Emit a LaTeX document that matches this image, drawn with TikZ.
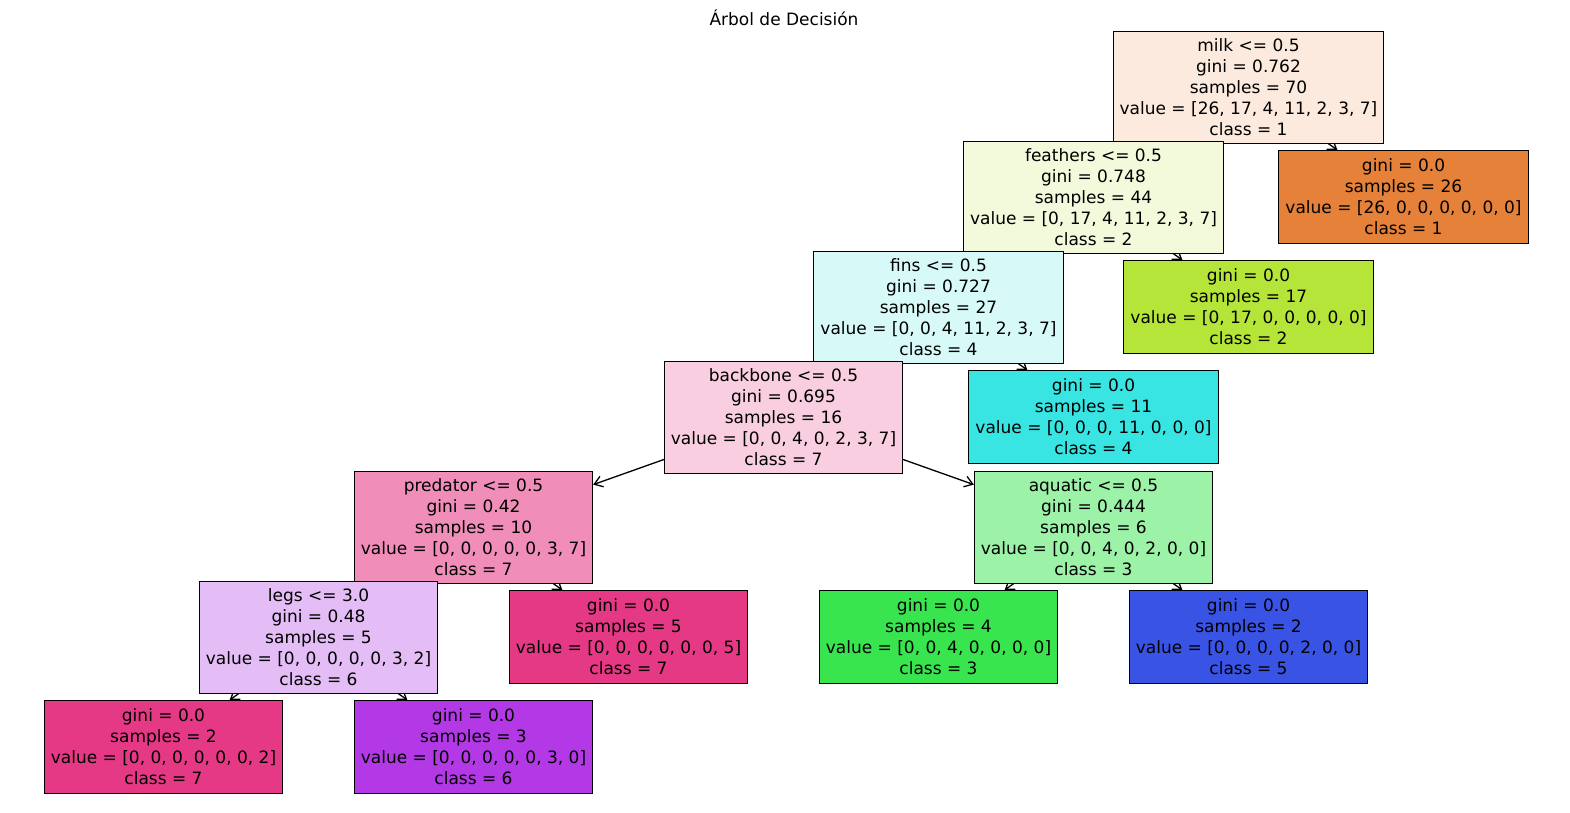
\documentclass[tikz,border=0pt]{standalone}
\usepackage{fontspec}
\setmainfont{DejaVu Sans}
\usetikzlibrary{positioning,backgrounds,arrows.meta}

\definecolor{c_milk}{RGB}{251,234,221}
\definecolor{c_feathers}{RGB}{242,250,219}
\definecolor{c_fins}{RGB}{215,250,249}
\definecolor{c_backbone}{RGB}{248,206,224}
\definecolor{c_predator}{RGB}{240,142,185}
\definecolor{c_aquatic}{RGB}{156,242,167}
\definecolor{c_legs}{RGB}{229,189,246}
\definecolor{class_1}{RGB}{229,129,57}
\definecolor{class_2}{RGB}{182,229,57}
\definecolor{class_3}{RGB}{57,229,79}
\definecolor{class_4}{RGB}{57,229,227}
\definecolor{class_5}{RGB}{57,84,229}
\definecolor{class_6}{RGB}{178,57,229}
\definecolor{class_7}{RGB}{229,57,133}

\tikzstyle{split}=[rectangle,draw,line width=1pt,align=center,inner xsep=6.5pt,inner ysep=2pt,minimum height=112pt,font=\fontsize{17pt}{21pt}\selectfont]
\tikzstyle{leaf}=[split,minimum height=93pt]
\tikzstyle{branch}=[->,line width=1.3pt,draw=black]

\begin{document}
\begin{tikzpicture}[x=1pt,y=-1pt,node distance=110pt,>={Straight Barb[length=8pt,width=11pt]}]
	\useasboundingbox (0,0) rectangle (1570,812);
	\node[font=\fontsize{17pt}{20pt}\selectfont] (title) at (784,18) {Árbol de Decisión};
	\node[split,fill=c_milk] (milk) at (1248.5,87) {milk <= 0.5\\gini = 0.762\\samples = 70\\value = [26, 17, 4, 11, 2, 3, 7]\\class = 1};
	\node[split,fill=c_feathers,below of=milk,xshift=-155pt] (feathers) {feathers <= 0.5\\gini = 0.748\\samples = 44\\value = [0, 17, 4, 11, 2, 3, 7]\\class = 2};
	\node[leaf,fill=class_1,below of=milk,xshift=155pt] (milk_leaf) {gini = 0.0\\samples = 26\\value = [26, 0, 0, 0, 0, 0, 0]\\class = 1};
	\node[split,fill=c_fins,below of=feathers,xshift=-155pt] (fins) {fins <= 0.5\\gini = 0.727\\samples = 27\\value = [0, 0, 4, 11, 2, 3, 7]\\class = 4};
	\node[leaf,fill=class_2,below of=feathers,xshift=155pt] (feathers_leaf) {gini = 0.0\\samples = 17\\value = [0, 17, 0, 0, 0, 0, 0]\\class = 2};
	\node[split,fill=c_backbone,below of=fins,xshift=-155pt] (backbone) {backbone <= 0.5\\gini = 0.695\\samples = 16\\value = [0, 0, 4, 0, 2, 3, 7]\\class = 7};
	\node[leaf,fill=class_4,below of=fins,xshift=155pt] (fins_leaf) {gini = 0.0\\samples = 11\\value = [0, 0, 0, 11, 0, 0, 0]\\class = 4};
	\node[split,fill=c_predator,below of=backbone,xshift=-310pt] (predator) {predator <= 0.5\\gini = 0.42\\samples = 10\\value = [0, 0, 0, 0, 0, 3, 7]\\class = 7};
	\node[split,fill=c_aquatic,below of=backbone,xshift=310pt] (aquatic) {aquatic <= 0.5\\gini = 0.444\\samples = 6\\value = [0, 0, 4, 0, 2, 0, 0]\\class = 3};
	\node[split,fill=c_legs,below of=predator,xshift=-155pt] (legs) {legs <= 3.0\\gini = 0.48\\samples = 5\\value = [0, 0, 0, 0, 0, 3, 2]\\class = 6};
	\node[leaf,fill=class_7,below of=predator,xshift=155pt] (predator_leaf) {gini = 0.0\\samples = 5\\value = [0, 0, 0, 0, 0, 0, 5]\\class = 7};
	\node[leaf,fill=class_3,below of=aquatic,xshift=-155pt] (aquatic_left) {gini = 0.0\\samples = 4\\value = [0, 0, 4, 0, 0, 0, 0]\\class = 3};
	\node[leaf,fill=class_5,below of=aquatic,xshift=155pt] (aquatic_right) {gini = 0.0\\samples = 2\\value = [0, 0, 0, 0, 2, 0, 0]\\class = 5};
	\node[leaf,fill=class_7,below of=legs,xshift=-155pt] (legs_left) {gini = 0.0\\samples = 2\\value = [0, 0, 0, 0, 0, 0, 2]\\class = 7};
	\node[leaf,fill=class_6,below of=legs,xshift=155pt] (legs_right) {gini = 0.0\\samples = 3\\value = [0, 0, 0, 0, 0, 3, 0]\\class = 6};
	\begin{scope}[on background layer]
		\draw[branch] (milk.center)--(feathers);
		\draw[branch] (milk.center)--(milk_leaf);
		\draw[branch] (feathers.center)--(fins);
		\draw[branch] (feathers.center)--(feathers_leaf);
		\draw[branch] (fins.center)--(backbone);
		\draw[branch] (fins.center)--(fins_leaf);
		\draw[branch] (backbone.center)--(predator);
		\draw[branch] (backbone.center)--(aquatic);
		\draw[branch] (predator.center)--(legs);
		\draw[branch] (predator.center)--(predator_leaf);
		\draw[branch] (aquatic.center)--(aquatic_left);
		\draw[branch] (aquatic.center)--(aquatic_right);
		\draw[branch] (legs.center)--(legs_left);
		\draw[branch] (legs.center)--(legs_right);
	\end{scope}
\end{tikzpicture}
\end{document}
